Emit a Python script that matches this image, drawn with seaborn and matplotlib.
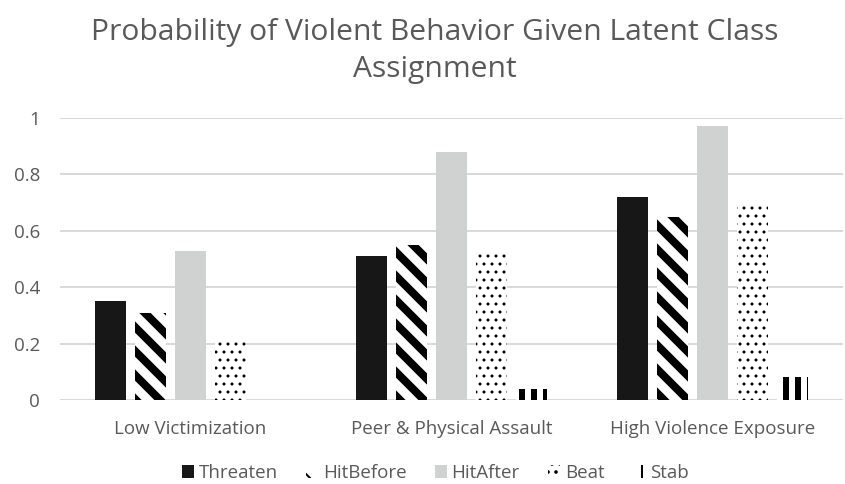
import matplotlib
matplotlib.use("Agg")
import matplotlib.pyplot as plt
import seaborn as sns
import pandas as pd

classes = ["Low Victimization", "Peer & Physical Assault", "High Violence Exposure"]
behaviors = ["Threaten", "HitBefore", "HitAfter", "Beat", "Stab"]
threaten = [0.35, 0.51, 0.72]
hit_before = [0.31, 0.55, 0.65]
hit_after = [0.53, 0.88, 0.97]
beat = [0.22, 0.52, 0.70]
stab = [0.0, 0.04, 0.08]
y_ticks = [0, 0.2, 0.4, 0.6, 0.8, 1]
y_tick_labels = ["0", "0.2", "0.4", "0.6", "0.8", "1"]

series = [threaten, hit_before, hit_after, beat, stab]
df = pd.DataFrame(
    [(c, b, v) for b, vals in zip(behaviors, series) for c, v in zip(classes, vals)],
    columns=["cls", "behavior", "prob"],
)

face_colors = ["#171717", "#ffffff", "#d0d1d1", "#ffffff", "#ffffff"]
hatches = [None, "\\\\", None, "...", "||"]
hatch_widths = [1.0, 4.0, 1.0, 0.7, 3.0]

sns.set_theme(style="white")
plt.rcParams["font.family"] = ["Open Sans", "DejaVu Sans"]
plt.rcParams["hatch.color"] = "black"

DPI = 144
fig = plt.figure(figsize=(845 / DPI, 484 / DPI), dpi=DPI)
ax = fig.add_axes([60 / 845, 1 - 400 / 484, 783 / 845, 282 / 484])

sns.barplot(
    data=df, x="cls", y="prob", hue="behavior", order=classes, hue_order=behaviors,
    palette=face_colors, width=0.766, gap=0.225, legend=False, ax=ax,
    saturation=1, errorbar=None,
)

for cont, fc, h, hw in zip(ax.containers, face_colors, hatches, hatch_widths):
    for p in cont.patches:
        p.set_facecolor(fc)
        p.set_linewidth(0)
        if h:
            p.set_edgecolor("black")
            p.set_hatch(h)
            if hasattr(p, "set_hatch_linewidth"):
                p.set_hatch_linewidth(hw)

text_gray = "#595959"
grid_gray = "#d9d9d9"
label_size = 9.4

ax.set_ylim(0, 1)
ax.set_xlim(-0.5, 2.5)
ax.set_yticks(y_ticks)
ax.set_yticklabels(y_tick_labels)
ax.yaxis.grid(True, color=grid_gray, linewidth=1.0)
ax.set_axisbelow(True)
for s in ax.spines.values():
    s.set_visible(False)
ax.axhline(0, color=grid_gray, linewidth=1.0, zorder=0.5)
ax.tick_params(axis="both", length=0, labelsize=label_size, labelcolor=text_gray)
ax.tick_params(axis="y", pad=10)
ax.tick_params(axis="x", pad=10)
ax.set_xlabel("")
ax.set_ylabel("")

fig.text(435 / 845, 1 - 51 / 484, "Probability of Violent Behavior Given Latent Class\nAssignment",
         ha="center", va="center", fontsize=15, color=text_gray, linespacing=1.38)

leg = ax.legend(
    handles=list(ax.containers), labels=behaviors, loc="center",
    bbox_to_anchor=(435 / 845, 1 - 473 / 484), bbox_transform=fig.transFigure,
    ncol=5, frameon=False, fontsize=label_size, handlelength=0.65, handleheight=0.65,
    handletextpad=0.25, columnspacing=1.5, labelcolor=text_gray,
    borderpad=0.2,
)

fig.savefig("out.png", dpi=DPI)
